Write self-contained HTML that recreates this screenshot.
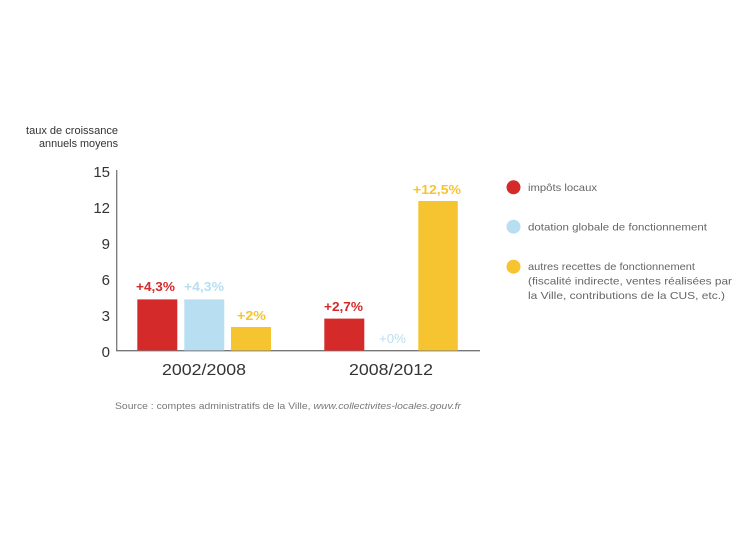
<!DOCTYPE html>
<html><head><meta charset="utf-8"><style>
html,body{margin:0;padding:0;background:#fff;}
svg{display:block;}
text{font-family:"Liberation Sans",sans-serif;}
</style></head><body>
<svg width="750" height="536" viewBox="0 0 750 536" xmlns="http://www.w3.org/2000/svg">
<rect width="750" height="536" fill="#fff"/>
<!-- y title -->
<text x="118" y="134" font-size="11" fill="#333" text-anchor="end" textLength="92" lengthAdjust="spacingAndGlyphs">taux de croissance</text>
<text x="118" y="147" font-size="11" fill="#333" text-anchor="end" textLength="79" lengthAdjust="spacingAndGlyphs">annuels moyens</text>
<!-- ticks -->
<g font-size="15" fill="#333" text-anchor="end">
<text x="110" y="177">15</text>
<text x="110" y="213">12</text>
<text x="110" y="249">9</text>
<text x="110" y="285">6</text>
<text x="110" y="321">3</text>
<text x="110" y="357">0</text>
</g>
<!-- axes -->
<line x1="116.7" y1="170" x2="116.7" y2="351" stroke="#777" stroke-width="1.3"/>
<line x1="116" y1="350.7" x2="480" y2="350.7" stroke="#777" stroke-width="1.3"/>
<!-- bars group 1 -->
<rect x="137.3" y="299.4" width="40" height="51" fill="#d42a2a"/>
<rect x="184.3" y="299.4" width="40" height="51" fill="#b8dff1"/>
<rect x="231" y="327" width="40" height="23.5" fill="#f6c431"/>
<!-- bars group 2 -->
<rect x="324.3" y="318.6" width="40" height="32" fill="#d42a2a"/>
<rect x="418.3" y="201" width="39.5" height="149.5" fill="#f6c431"/>
<!-- value labels -->
<g font-size="13" font-weight="bold">
<text x="136" y="291" fill="#d42a2a" textLength="39" lengthAdjust="spacingAndGlyphs">+4,3%</text>
<text x="184" y="291" fill="#b8dff1" textLength="40" lengthAdjust="spacingAndGlyphs">+4,3%</text>
<text x="237" y="320" fill="#f6c431" textLength="29" lengthAdjust="spacingAndGlyphs">+2%</text>
<text x="324" y="311" fill="#d42a2a" textLength="39" lengthAdjust="spacingAndGlyphs">+2,7%</text>
<text x="379" y="343" fill="#b8dff1" font-weight="normal" textLength="27" lengthAdjust="spacingAndGlyphs">+0%</text>
<text x="413" y="194" fill="#f6c431" textLength="48" lengthAdjust="spacingAndGlyphs">+12,5%</text>
</g>
<!-- category labels -->
<text x="162" y="375" font-size="16" fill="#333" textLength="84" lengthAdjust="spacingAndGlyphs">2002/2008</text>
<text x="349" y="375" font-size="16" fill="#333" textLength="84" lengthAdjust="spacingAndGlyphs">2008/2012</text>
<!-- legend -->
<circle cx="513.5" cy="187.3" r="7" fill="#d42a2a"/>
<circle cx="513.5" cy="226.7" r="7" fill="#b8dff1"/>
<circle cx="513.5" cy="266.7" r="7" fill="#f6c431"/>
<g font-size="10.5" fill="#666">
<text x="528" y="191" textLength="69" lengthAdjust="spacingAndGlyphs">impôts locaux</text>
<text x="528" y="230.5" textLength="179" lengthAdjust="spacingAndGlyphs">dotation globale de fonctionnement</text>
<text x="528" y="270" textLength="167" lengthAdjust="spacingAndGlyphs">autres recettes de fonctionnement</text>
<text x="528" y="284.5" textLength="204" lengthAdjust="spacingAndGlyphs">(fiscalité indirecte, ventes réalisées par</text>
<text x="528" y="299" textLength="197" lengthAdjust="spacingAndGlyphs">la Ville, contributions de la CUS, etc.)</text>
</g>
<!-- source -->
<text x="115" y="409" font-size="9.5" fill="#777" textLength="346" lengthAdjust="spacingAndGlyphs">Source : comptes administratifs de la Ville, <tspan font-style="italic">www.collectivites-locales.gouv.fr</tspan></text>
</svg>
</body></html>
